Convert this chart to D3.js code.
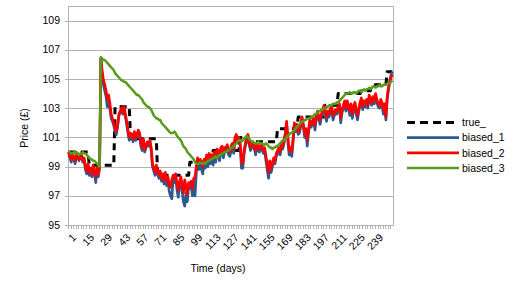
<!DOCTYPE html>
<html>
<head>
<meta charset="utf-8">
<script src="https://cdn.jsdelivr.net/npm/d3@7"></script>
<style>
body { margin: 0; background: #fff; }
text { font-family: "Liberation Sans", Arial, sans-serif; font-size: 10.5px; fill: #000; }
</style>
</head>
<body>
<div id="chart"></div>
<script>
var width = 517;
var height = 291;

var days = d3.range(1, 253);
var xTickLabels = ['1', '15', '29', '43', '57', '71', '85', '99', '113', '127', '141', '155', '169', '183', '197', '211', '225', '239'];
var yTickLabels = [95, 97, 99, 101, 103, 105, 107, 109];

var trueVals = [
    100.0, 100.0, 100.0, 100.0, 100.0, 100.0, 100.0, 100.0, 100.0, 100.0, 100.0, 100.0, 100.0, 100.0, 100.0, 100.0,
    99.1, 99.1, 99.1, 99.1, 99.1, 99.1, 99.1, 99.1, 99.1, 99.1, 99.1, 99.1, 99.1, 99.1, 99.1, 99.1, 99.1, 99.1, 99.1, 99.1,
    103.1, 103.1, 103.1, 103.1, 103.1, 103.1, 103.1, 103.1, 103.1, 103.1, 103.1, 103.1,
    100.9, 100.9, 100.9, 100.9, 100.9, 100.9, 100.9, 100.9, 100.9, 100.9, 100.9, 100.9, 100.9, 100.9, 100.9, 100.9, 100.9, 100.9, 100.9, 100.9, 100.9,
    98.4, 98.4, 98.4, 98.4, 98.4, 98.4, 98.4, 98.4, 98.4, 98.4, 98.4, 98.4, 98.4, 98.4, 98.4, 98.4, 98.4, 98.4, 98.4, 98.4, 98.4, 98.4, 98.4, 98.4, 98.4,
    99.3, 99.3, 99.3, 99.3, 99.3, 99.3, 99.3, 99.3, 99.3, 99.3, 99.3, 99.3, 99.3, 99.3, 99.3, 99.3, 99.3, 99.3,
    100.1, 100.1, 100.1, 100.1, 100.1, 100.1, 100.1, 100.1, 100.1, 100.1, 100.1, 100.1, 100.1, 100.1, 100.1, 100.1, 100.1, 100.1, 100.1, 100.1, 100.1,
    101.0, 101.0, 101.0, 101.0, 101.0, 101.0,
    100.7, 100.7, 100.7, 100.7, 100.7, 100.7, 100.7, 100.7, 100.7, 100.7, 100.7, 100.7, 100.7, 100.7, 100.7, 100.7, 100.7, 100.7, 100.7, 100.7, 100.7, 100.7, 100.7,
    101.6, 101.6, 101.6, 101.6, 101.6, 101.6, 101.6, 101.6, 101.6, 101.6, 101.6, 101.6, 101.6, 101.6, 101.6, 101.6,
    102.4, 102.4, 102.4, 102.4, 102.4, 102.4, 102.4, 102.4, 102.4, 102.4, 102.4, 102.4, 102.4, 102.4, 102.4, 102.4, 102.4, 102.4, 102.4, 102.4, 102.4,
    103.2, 103.2, 103.2, 103.2, 103.2, 103.2, 103.2, 103.2, 103.2, 103.2,
    104.0, 104.0, 104.0, 104.0, 104.0, 104.0, 104.0, 104.0, 104.0, 104.0, 104.0, 104.0, 104.0, 104.0, 104.0, 104.0, 104.0, 104.0,
    104.2, 104.2, 104.2, 104.2, 104.2, 104.2, 104.2, 104.2,
    104.6, 104.6, 104.6, 104.6, 104.6, 104.6, 104.6, 104.6, 104.6, 104.6, 104.6, 104.6,
    105.5, 105.5, 105.5, 105.5, 105.5
];

var biased1 = [
    100.0, 99.6, 99.3, 99.8, 99.5, 99.2, 99.7, 99.8, 99.4, 99.6,
    99.7, 99.3, 99.5, 98.8, 98.5, 99.1, 98.4, 98.8, 98.3, 99.0,
    98.5, 97.9, 98.8, 98.3, 98.9, 106.4, 105.3, 104.6, 104.2, 103.8,
    103.1, 103.5, 102.9, 102.3, 102.1, 101.8, 101.4, 101.2, 101.8, 102.5,
    102.7, 102.9, 102.6, 103.0, 102.4, 101.9, 101.3, 100.8, 101.2, 101.0,
    100.7, 101.3, 100.8, 101.1, 101.4, 101.2, 100.4, 100.1, 100.8, 100.0,
    100.3, 100.6, 100.4, 100.7, 100.1, 99.0, 98.7, 98.4, 98.9, 98.5,
    98.2, 98.5, 98.0, 98.3, 97.8, 98.4, 97.7, 98.1, 97.3, 97.0,
    96.8, 98.1, 97.9, 98.3, 97.4, 96.9, 97.7, 98.1, 97.3, 96.6,
    96.3, 97.2, 96.6, 97.6, 97.5, 97.7, 97.0, 97.9, 97.0, 98.6,
    99.2, 98.8, 99.2, 98.8, 98.5, 99.2, 98.9, 99.5, 99.0, 99.6,
    99.2, 99.5, 99.1, 99.7, 99.3, 99.9, 99.8, 99.4, 100.0, 100.1,
    99.6, 100.1, 100.0, 100.3, 99.8, 99.7, 100.1, 100.4, 99.9, 100.8,
    101.0, 100.6, 100.8, 100.4, 98.9, 98.9, 99.8, 100.4, 100.8, 101.1,
    100.5, 100.1, 100.3, 100.5, 100.2, 99.8, 100.4, 100.1, 100.0, 100.3,
    100.2, 99.9, 100.1, 99.4, 98.8, 98.2, 99.1, 98.6, 99.0, 99.4,
    99.2, 99.7, 99.9, 100.1, 99.8, 100.4, 100.2, 100.6, 101.1, 101.9,
    100.7, 99.8, 100.1, 99.7, 100.7, 101.8, 101.4, 101.7, 101.2, 101.3,
    101.8, 102.2, 101.7, 101.0, 101.4, 100.4, 101.3, 102.0, 101.7, 101.9,
    102.1, 101.5, 102.3, 102.6, 102.2, 101.9, 102.4, 102.7, 103.0, 102.4,
    102.1, 102.6, 102.4, 102.8, 102.9, 102.2, 102.5, 102.7, 102.6, 102.9,
    103.1, 102.0, 102.7, 103.0, 103.3, 102.8, 103.3, 103.0, 102.5, 103.1,
    102.3, 102.9, 103.2, 102.6, 102.2, 102.8, 103.2, 103.5, 102.9, 103.3,
    103.1, 103.4, 103.0, 103.7, 103.5, 103.2, 103.6, 103.3, 103.8, 103.4,
    103.1, 103.0, 103.4, 103.2, 102.6, 103.1, 102.2, 103.6, 104.3, 104.9,
    105.3, 105.5
];

var biased2 = [
    100.0, 99.7, 99.5, 99.9, 99.6, 99.4, 99.8, 99.9, 99.5, 99.7,
    99.8, 99.4, 99.6, 99.0, 98.7, 99.2, 98.6, 98.9, 98.5, 99.1,
    98.7, 98.3, 98.9, 98.5, 99.0, 106.4, 105.5, 104.9, 104.6, 104.2,
    103.6, 103.9, 103.3, 102.6, 102.3, 102.0, 101.6, 101.4, 101.9, 102.6,
    102.8, 103.0, 102.7, 103.1, 102.6, 102.1, 101.5, 101.0, 101.3, 101.2,
    100.9, 101.4, 101.0, 101.2, 101.5, 101.3, 100.6, 100.3, 100.9, 100.2,
    100.4, 100.7, 100.5, 100.8, 100.3, 99.2, 98.9, 98.6, 99.1, 98.7,
    98.4, 98.7, 98.2, 98.5, 98.1, 98.6, 98.0, 98.3, 97.7, 97.6,
    98.1, 98.4, 98.2, 98.5, 97.8, 97.4, 98.0, 98.3, 97.7, 97.2,
    98.1, 97.6, 97.1, 97.9, 97.8, 98.0, 97.5, 98.2, 98.3, 99.0,
    99.6, 99.3, 99.5, 99.2, 99.0, 99.5, 99.3, 99.8, 99.4, 99.9,
    99.6, 99.8, 99.6, 100.0, 99.7, 100.2, 100.1, 99.8, 100.3, 100.4,
    100.0, 100.3, 100.3, 100.5, 100.1, 100.0, 100.4, 100.6, 100.2, 101.0,
    101.2, 100.8, 101.0, 100.6, 99.4, 99.2, 100.1, 100.6, 101.0, 101.2,
    100.7, 100.3, 100.5, 100.7, 100.4, 100.1, 100.6, 100.3, 100.2, 100.5,
    100.4, 100.1, 100.3, 99.7, 99.2, 98.6, 99.4, 98.9, 99.2, 99.6,
    99.4, 99.9, 100.1, 100.3, 100.0, 100.6, 100.4, 100.8, 101.3, 102.1,
    101.0, 100.1, 100.3, 100.0, 100.9, 102.0, 101.6, 101.9, 101.4, 101.5,
    102.0, 102.4, 101.9, 101.3, 101.6, 100.8, 101.5, 102.2, 101.9, 102.1,
    102.3, 101.8, 102.5, 102.8, 102.4, 102.2, 102.6, 102.9, 103.2, 102.7,
    102.4, 102.8, 102.6, 103.0, 103.1, 102.5, 102.7, 102.9, 102.8, 103.1,
    103.3, 102.3, 102.9, 103.2, 103.5, 103.0, 103.5, 103.2, 102.8, 103.3,
    102.6, 103.1, 103.4, 102.9, 102.5, 103.0, 103.4, 103.7, 103.1, 103.5,
    103.3, 103.6, 103.2, 103.9, 103.7, 103.4, 103.8, 103.5, 104.0, 103.6,
    103.3, 103.2, 103.6, 103.4, 102.9, 103.3, 102.4, 103.8, 104.4, 104.8,
    105.1, 105.3
];

var biased3 = [
    100.0, 100.0, 99.9, 99.9, 100.0, 99.9, 100.0, 99.9, 99.8, 99.9,
    99.9, 100.0, 99.9, 99.9, 99.8, 99.7, 99.6, 99.5, 99.5, 99.4,
    99.4, 99.3, 99.2, 99.1, 99.0, 106.5, 106.4, 106.3, 106.3, 106.2,
    106.1, 106.0, 105.9, 105.8, 105.7, 105.6, 105.4, 105.3, 105.2, 105.1,
    105.0, 104.9, 104.9, 104.8, 104.8, 104.7, 104.6, 104.5, 104.4, 104.3,
    104.2, 104.1, 104.0, 103.9, 103.9, 103.8, 103.7, 103.6, 103.4, 103.3,
    103.2, 103.1, 103.1, 103.0, 102.9, 102.7, 102.5, 102.4, 102.3, 102.3,
    102.2, 102.2, 102.0, 101.9, 101.8, 101.7, 101.6, 101.5, 101.4, 101.3,
    101.3, 101.3, 101.4, 101.3, 101.1, 101.0, 100.9, 100.8, 100.6, 100.4,
    100.3, 100.2, 100.0, 99.9, 99.8, 99.7, 99.6, 99.5, 99.3, 99.2,
    99.2, 99.2, 99.3, 99.2, 99.2, 99.3, 99.2, 99.3, 99.4, 99.4,
    99.5, 99.5, 99.6, 99.6, 99.7, 99.6, 99.7, 99.8, 99.8, 99.9,
    99.9, 100.0, 100.0, 100.1, 100.1, 100.2, 100.3, 100.3, 100.4, 100.5,
    100.6, 100.7, 100.8, 100.8, 100.7, 100.8, 100.9, 101.0, 101.1, 101.0,
    100.9, 100.8, 100.7, 100.7, 100.6, 100.6, 100.6, 100.7, 100.6, 100.6,
    100.6, 100.5, 100.5, 100.6, 100.5, 100.4, 100.3, 100.3, 100.2, 100.3,
    100.3, 100.4, 100.4, 100.5, 100.6, 100.7, 100.8, 100.8, 100.9, 101.0,
    101.1, 101.2, 101.3, 101.3, 101.4, 101.5, 101.6, 101.7, 101.8, 101.9,
    102.0, 102.1, 102.1, 102.2, 102.2, 102.3, 102.3, 102.3, 102.4, 102.4,
    102.5, 102.6, 102.6, 102.7, 102.8, 102.8, 102.9, 102.9, 103.0, 103.0,
    103.1, 103.1, 103.2, 103.2, 103.2, 103.3, 103.3, 103.3, 103.4, 103.4,
    103.5, 103.6, 103.7, 103.8, 103.9, 104.0, 104.0, 104.0, 104.1, 104.0,
    104.0, 104.1, 104.1, 104.0, 104.1, 104.2, 104.2, 104.1, 104.2, 104.3,
    104.2, 104.3, 104.3, 104.4, 104.3, 104.4, 104.5, 104.5, 104.4, 104.5,
    104.5, 104.6, 104.5, 104.5, 104.6, 104.6, 104.6, 104.7, 104.7, 104.7,
    104.8, 104.9
];

var seriesNames = ['true_', 'biased_1', 'biased_2', 'biased_3'];
var seriesColors = ['#000000', '#2c5a8f', '#ff0000', '#579d1c'];

var plot = {left: 68, right: 393, top: 6, bottom: 225};
var gridColor = '#b3b3b3';

var svg = d3.select('#chart')
    .append('svg')
    .attr('width', width)
    .attr('height', height);
svg.append('rect')
    .attr('width', width)
    .attr('height', height)
    .style('fill', '#fff');

var x = d3.scalePoint()
    .domain(days)
    .range([plot.left, plot.right])
    .padding(0.5);
var step = x.step();

var y = d3.scaleLinear()
    .domain([95, 110])
    .range([plot.bottom, plot.top]);

// horizontal grid lines
svg.append('g')
    .selectAll('line')
    .data(yTickLabels)
    .enter()
    .append('line')
    .attr('x1', plot.left - 3)
    .attr('x2', plot.right)
    .attr('y1', function (d) { return Math.round(y(d)) + 0.5; })
    .attr('y2', function (d) { return Math.round(y(d)) + 0.5; })
    .style('stroke', gridColor)
    .style('stroke-width', 1);

// frame
svg.append('rect')
    .attr('x', plot.left + 0.5)
    .attr('y', plot.top + 0.5)
    .attr('width', plot.right - plot.left)
    .attr('height', plot.bottom - plot.top)
    .style('fill', 'none')
    .style('stroke', gridColor)
    .style('stroke-width', 1);

// y tick labels
svg.append('g')
    .selectAll('text')
    .data(yTickLabels)
    .enter()
    .append('text')
    .attr('x', 60)
    .attr('y', function (d) { return y(d); })
    .attr('dy', '0.35em')
    .attr('text-anchor', 'end')
    .text(function (d) { return d; });

// small category ticks under the axis
var tickDays = days.filter(function (d) { return d % 2 == 1; });
svg.append('g')
    .selectAll('line')
    .data(tickDays)
    .enter()
    .append('line')
    .attr('x1', function (d) { return Math.round(x(d) - step / 2) + 0.5; })
    .attr('x2', function (d) { return Math.round(x(d) - step / 2) + 0.5; })
    .attr('y1', plot.bottom)
    .attr('y2', plot.bottom + 4)
    .style('stroke', gridColor)
    .style('stroke-width', 1);

// x tick labels, rotated
svg.append('g')
    .selectAll('text')
    .data(xTickLabels)
    .enter()
    .append('text')
    .attr('transform', function (d) { return 'translate(' + (x(+d) + 3) + ',' + 233 + ') rotate(-45)'; })
    .attr('text-anchor', 'end')
    .attr('dy', '0.7em')
    .text(function (d) { return d; });

// axis titles
svg.append('text')
    .attr('x', 218)
    .attr('y', 272)
    .attr('text-anchor', 'middle')
    .text('Time (days)');
svg.append('text')
    .attr('transform', 'translate(28,128) rotate(-90)')
    .attr('text-anchor', 'middle')
    .text('Price (£)');

var line = d3.line()
    .x(function (d, i) { return x(days[i]); })
    .y(function (d) { return y(d); });

var allSeries = [trueVals, biased1, biased2, biased3];
var widths = [3, 2.7, 2.7, 2.5];

allSeries.forEach(function (vals, i) {
    var path = svg.append('path')
        .datum(vals)
        .attr('d', line)
        .style('fill', 'none')
        .style('stroke', seriesColors[i])
        .style('stroke-width', widths[i])
        .style('stroke-linejoin', 'round');
    if (i == 0) {
        path.style('stroke-dasharray', '7,5');
    }
});

// legend
var legend = svg.append('g')
    .selectAll('g')
    .data(seriesNames)
    .enter()
    .append('g')
    .attr('transform', function (d, i) { return 'translate(0,' + (122.5 + i * 15.2) + ')'; });
legend.append('line')
    .attr('x1', 407)
    .attr('x2', 459)
    .attr('y1', 0)
    .attr('y2', 0)
    .style('stroke', function (d, i) { return seriesColors[i]; })
    .style('stroke-width', function (d, i) { return widths[i]; })
    .style('stroke-dasharray', function (d, i) { return i == 0 ? '8,5' : null; });
legend.append('text')
    .attr('x', 462)
    .attr('dy', '0.35em')
    .text(function (d) { return d; });
</script>
</body>
</html>
